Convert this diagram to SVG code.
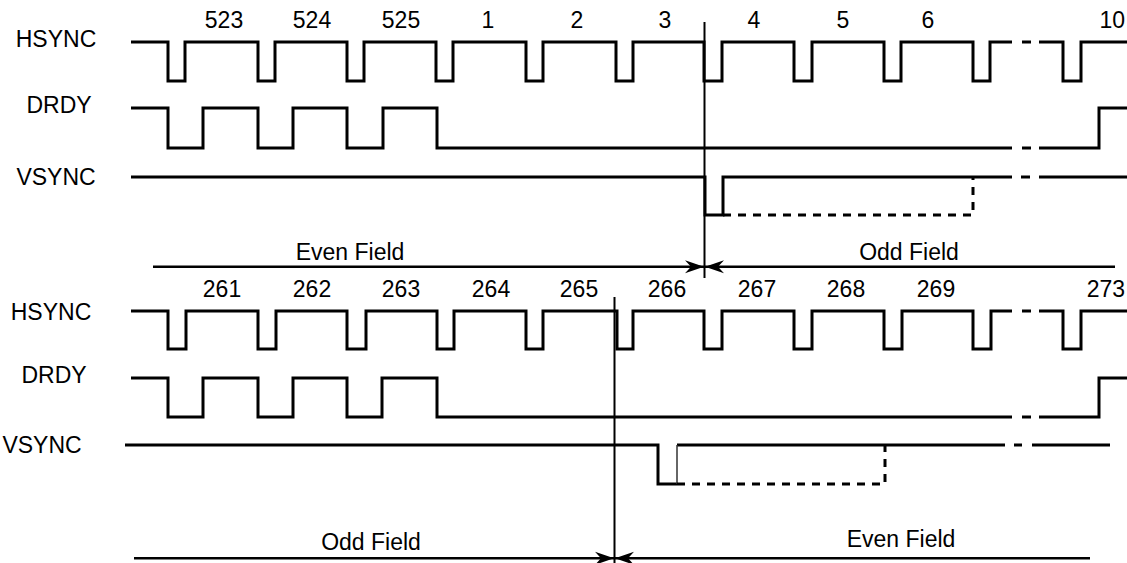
<svg xmlns="http://www.w3.org/2000/svg" width="1127" height="563" viewBox="0 0 1127 563">
<style>
text{font-family:"Liberation Sans",Arial,sans-serif;font-size:23px;fill:#000;text-anchor:middle}
.sig{fill:none;stroke:#000;stroke-width:3;stroke-linejoin:miter;stroke-linecap:butt}
.dash{fill:none;stroke:#000;stroke-width:3;stroke-dasharray:8,7}
.mark{fill:none;stroke:#000;stroke-width:2}
.arr{fill:none;stroke:#000;stroke-width:2.5}
</style>
<defs>
<marker id="ah" markerUnits="userSpaceOnUse" markerWidth="20" markerHeight="14" viewBox="-20 -7 20 14" refX="0" refY="0" orient="auto">
<path d="M0,0 L-19,-6.5 L-13,0 L-19,6.5 Z" fill="#000"/>
</marker>
</defs>
<rect width="1127" height="563" fill="#fff"/>

<g id="top-labels">
<text x="56" y="47">HSYNC</text>
<text x="59" y="113">DRDY</text>
<text x="56" y="185">VSYNC</text>
<text x="224" y="28">523</text>
<text x="312" y="28">524</text>
<text x="401" y="28">525</text>
<text x="488" y="28">1</text>
<text x="577" y="28">2</text>
<text x="665" y="28">3</text>
<text x="754" y="28">4</text>
<text x="843" y="28">5</text>
<text x="928" y="28">6</text>
<text x="1125" y="28" style="text-anchor:end">10</text>
<text x="350" y="260">Even Field</text>
<text x="909" y="260">Odd Field</text>
</g>

<g id="top-hsync">
<path class="sig" d="M131,42 H168 V81 H185 V42 H258 V81 H275 V42 H347 V81 H364 V42 H436 V81 H453 V42 H526 V81 H543 V42 H616 V81 H633 V42 H704 V81 H722 V42 H794 V81 H812 V42 H884 V81 H901 V42 H973 V81 H990 V42 H1012 M1022,42 H1031 M1039,42 H1063 V81 H1081 V42 H1127"/>
</g>
<g id="top-drdy">
<path class="sig" d="M131,108 H168 V148 H203 V108 H258 V148 H293 V108 H347 V148 H383 V108 H437 V148 H1012 M1022,148 H1031 M1039,148 H1099 V108 H1127"/>
</g>
<g id="top-vsync">
<path class="sig" d="M131,177 H705 V215 H723 V177 H1012 M1021,177 H1030 M1039,177 H1127"/>
<path class="dash" d="M723,215 H973 V177"/>
</g>

<g id="bottom-labels">
<text x="51" y="320">HSYNC</text>
<text x="54" y="383">DRDY</text>
<text x="42" y="453">VSYNC</text>
<text x="222" y="297">261</text>
<text x="312" y="297">262</text>
<text x="401" y="297">263</text>
<text x="491" y="297">264</text>
<text x="579" y="297">265</text>
<text x="667" y="297">266</text>
<text x="757" y="297">267</text>
<text x="846" y="297">268</text>
<text x="936" y="297">269</text>
<text x="1125" y="297" style="text-anchor:end">273</text>
<text x="371" y="550">Odd Field</text>
<text x="901" y="547">Even Field</text>
</g>

<g id="bottom-hsync">
<path class="sig" d="M131,311 H168 V349 H186 V311 H258 V349 H276 V311 H347 V349 H366 V311 H437 V349 H454 V311 H526 V349 H543 V311 H617 V349 H633 V311 H704 V349 H722 V311 H794 V349 H812 V311 H884 V349 H902 V311 H973 V349 H991 V311 H1012 M1022,311 H1031 M1039,311 H1063 V349 H1081 V311 H1127"/>
</g>
<g id="bottom-drdy">
<path class="sig" d="M131,378 H168 V417 H203 V378 H258 V417 H293 V378 H347 V417 H382 V378 H437 V417 H1012 M1022,417 H1031 M1039,417 H1099 V378 H1127"/>
</g>
<g id="bottom-vsync">
<path class="sig" d="M125,445 H658 V484 H677 M677,445 H1005 M1014,445 H1022 M1032,445 H1110"/>
<path fill="none" stroke="#333" stroke-width="1.5" d="M677,484 V445"/>
<path class="dash" d="M677,484 H885 V445"/>
</g>

<g id="connectors">
<path class="mark" d="M704.5,22 V278"/>
<path class="arr" d="M153,266.7 H704" marker-end="url(#ah)"/>
<path class="arr" d="M1115,266.7 H705" marker-end="url(#ah)"/>
<path class="mark" d="M614.5,297 V563"/>
<path class="arr" d="M134,558.3 H614" marker-end="url(#ah)"/>
<path class="arr" d="M1090,558.3 H615" marker-end="url(#ah)"/>
</g>
</svg>
